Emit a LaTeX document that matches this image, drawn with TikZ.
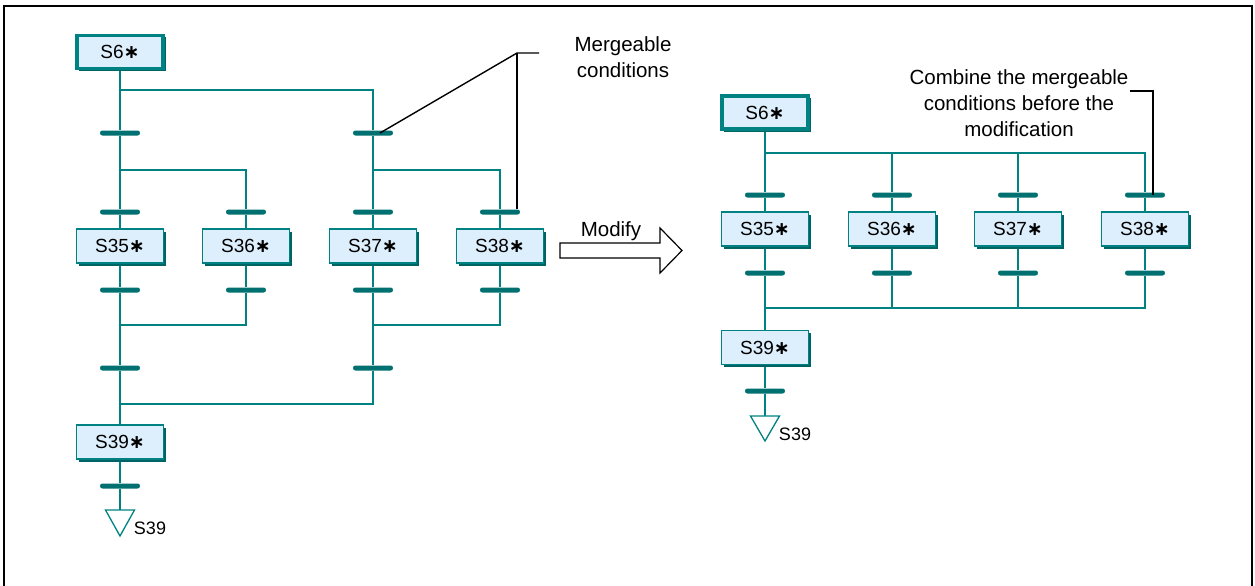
\documentclass[tikz,border=0pt]{standalone}
\usepackage{fontspec}
\setmainfont{Liberation Sans}
\newfontfamily\stepsym{DejaVu Sans}
\newcommand\stepast{{\stepsym\bfseries ∗}}
\usetikzlibrary{calc,shadows,backgrounds}
\definecolor{sfcline}{RGB}{0,130,130}
\definecolor{sfcbar}{RGB}{0,112,112}
\definecolor{sfcfill}{RGB}{221,238,252}
\definecolor{sfcshade}{RGB}{0,100,100}

\begin{document}
\begin{tikzpicture}[x=1pt,y=-1pt,
  conn/.style={draw=sfcline,line width=1.8},
  leader/.style={draw=black,line width=1.4},
  stepbox/.style={draw=sfcline,fill=sfcfill,line width=1.5,minimum width=87,minimum height=34,
    inner sep=0,font=\fontsize{19}{19}\selectfont,
    drop shadow={shadow xshift=2.5pt,shadow yshift=-2.5pt,fill=sfcshade,opacity=1}},
  initbox/.style={stepbox,line width=2.2},
  trans/.style={fill=sfcbar,minimum width=40,minimum height=5,inner sep=0,rounded corners=2.4},
  endmark/.style={draw=sfcline,fill=white,line width=1.3},
  annot/.style={align=center,inner sep=0,font=\fontsize{20.5}{25.5}\selectfont},
  sublabel/.style={inner sep=0,font=\fontsize{18}{18}\selectfont}]

\useasboundingbox (0,0) rectangle (1255,586);
\draw[black,line width=2] (4,586) -- (4,6.5) -- (1252,6.5) -- (1252,586);

% ---------- original chart ----------
\node[initbox] (s6l) at (120,52) {S6\stepast};
\draw[sfcline,line width=1] ([shift={(3,3)}]s6l.north west) rectangle ([shift={(-3,-3)}]s6l.south east);

\node[trans] (t1l) at (120,133) {};
\node[trans] (t2l) at (373,133) {};
\node[trans] (t3l) at (120,212) {};
\node[trans] (t4l) at (246,212) {};
\node[trans] (t5l) at (373,212) {};
\node[trans] (t6l) at (500,212) {};
\node[stepbox] (s35l) at (120,246) {S35\stepast};
\node[stepbox] (s36l) at (246,246) {S36\stepast};
\node[stepbox] (s37l) at (373,246) {S37\stepast};
\node[stepbox] (s38l) at (500,246) {S38\stepast};
\node[trans] (t7l) at (120,290) {};
\node[trans] (t8l) at (246,290) {};
\node[trans] (t9l) at (373,290) {};
\node[trans] (t10l) at (500,290) {};
\node[trans] (t11l) at (120,368) {};
\node[trans] (t12l) at (373,368) {};
\node[stepbox] (s39l) at (120,442) {S39\stepast};
\node[trans] (t13l) at (120,486) {};
\coordinate (endl) at (120,510);
\draw[endmark] ($(endl)+(-14.5,0)$) -- ($(endl)+(14.5,0)$) -- ($(endl)+(0,26)$) -- cycle;
\node[sublabel] (lbl) at (150,528) {S39};

\coordinate (d1l) at (120,90);
\coordinate (d2l) at (120,170);
\coordinate (d3l) at (373,170);
\coordinate (d4l) at (120,325);
\coordinate (d5l) at (373,325);
\coordinate (d6l) at (120,404);

\begin{scope}[on background layer]
  \draw[conn] (s6l) -- (t1l) -- (t3l) -- (s35l) -- (t7l) -- (t11l) -- (s39l) -- (t13l) -- (endl);
  \draw[conn] (d1l) -| (t2l) -- (t5l) -- (s37l) -- (t9l) -- (t12l);
  \draw[conn] (d2l) -| (t4l) -- (s36l) -- (t8l) |- (d4l);
  \draw[conn] (d3l) -| (t6l) -- (s38l) -- (t10l) |- (d5l);
  \draw[conn] (t12l) |- (d6l);
\end{scope}

% ---------- note on the original chart ----------
\node[annot] (mc) at (623,57) {Mergeable\\conditions};
\coordinate (mk0) at (539,53);
\coordinate (mk1) at (517,53);
\coordinate (mk2) at (380,133);
\draw[leader] (mk0) -- (mk1) -- (mk2);
\draw[leader] (mk1) -- (mk1 |- t6l.north);

% ---------- modify arrow ----------
\draw[black,line width=1.2,fill=white] (560,243) -- (660,243) -- (660,228) -- (682,250.5) -- (660,273) -- (660,258) -- (560,258) -- cycle;
\node[annot] (mod) at (611,231) {Modify};

% ---------- modified chart ----------
\node[initbox] (s6r) at (765,112.5) {S6\stepast};
\draw[sfcline,line width=1] ([shift={(3,3)}]s6r.north west) rectangle ([shift={(-3,-3)}]s6r.south east);

\node[trans] (t1r) at (765,195) {};
\node[trans] (t2r) at (892,195) {};
\node[trans] (t3r) at (1018,195) {};
\node[trans] (t4r) at (1145,195) {};
\node[stepbox] (s35r) at (765,229) {S35\stepast};
\node[stepbox] (s36r) at (892,229) {S36\stepast};
\node[stepbox] (s37r) at (1018,229) {S37\stepast};
\node[stepbox] (s38r) at (1145,229) {S38\stepast};
\node[trans] (t5r) at (765,273) {};
\node[trans] (t6r) at (892,273) {};
\node[trans] (t7r) at (1018,273) {};
\node[trans] (t8r) at (1145,273) {};
\node[stepbox] (s39r) at (765,347.5) {S39\stepast};
\node[trans] (t9r) at (765,391) {};
\coordinate (endr) at (765,416);
\draw[endmark] ($(endr)+(-14.5,0)$) -- ($(endr)+(14.5,0)$) -- ($(endr)+(0,25)$) -- cycle;
\node[sublabel] (lbr) at (795,434) {S39};

\coordinate (d1r) at (765,153);
\coordinate (d2r) at (765,308);

\begin{scope}[on background layer]
  \draw[conn] (s6r) -- (t1r) -- (s35r) -- (t5r) -- (s39r) -- (t9r) -- (endr);
  \draw[conn] (d1r) -| (t2r) -- (s36r) -- (t6r) |- (d2r);
  \draw[conn] (d1r) -| (t3r) -- (s37r) -- (t7r) |- (d2r);
  \draw[conn] (d1r) -| (t4r) -- (s38r) -- (t8r) |- (d2r);
\end{scope}

% ---------- note on the modified chart ----------
\node[annot,font=\fontsize{20.5}{26}\selectfont] (cb) at (1019,103) {Combine the mergeable\\conditions before the\\modification};
\coordinate (ck0) at (1130,91);
\coordinate (ck1) at (1153,91);
\draw[leader] (ck0) -- (ck1) -- (ck1 |- t4r.center);
\end{tikzpicture}
\end{document}
